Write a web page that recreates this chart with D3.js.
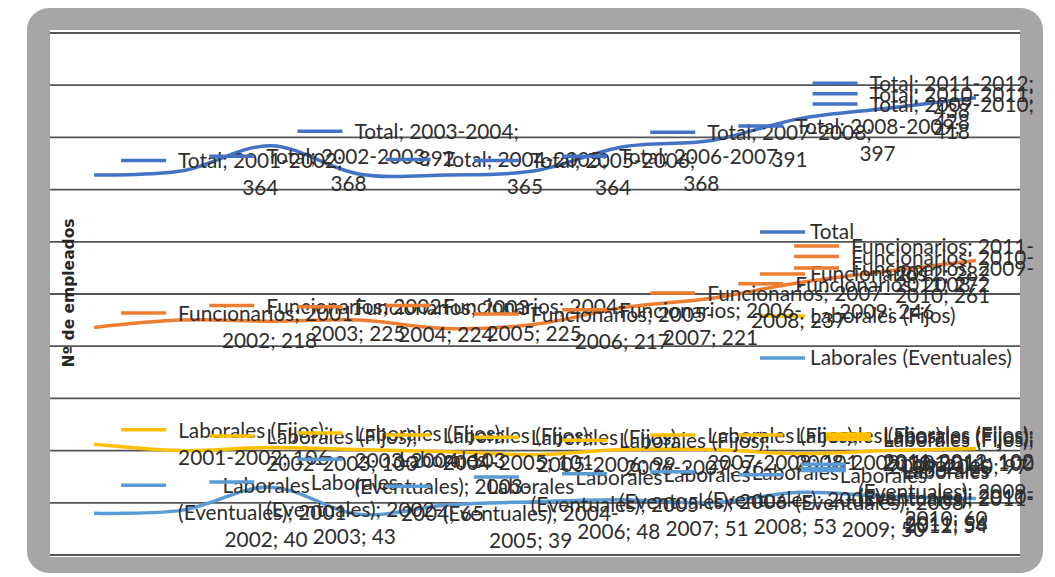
<!DOCTYPE html>
<html>
<head>
<meta charset="utf-8">
<script src="https://cdn.jsdelivr.net/npm/d3@7"></script>
<style>
  body { margin: 0; background: #fff; }
  svg { display: block; }
  text { font-family: Lato, "Noto Sans", sans-serif; }
</style>
</head>
<body>
<svg id="chart" width="1055" height="577"></svg>
<script>
// chart values
const categories = ["2001-2002", "2002-2003", "2003-2004", "2004-2005", "2005-2006", "2006-2007",
                    "2007-2008", "2008-2009", "2009-2010", "2010-2011", "2011-2012"];
const total        = [364, 368, 392, 365, 364, 368, 391, 397, 418, 428, 438];
const funcionarios = [218, 225, 224, 225, 217, 221, 237, 246, 261, 272, 282];
const fijos        = [106, 100, 103, 101, 99, 96, 101, 101, 97, 100, 102];
const eventuales   = [40, 43, 65, 39, 48, 51, 53, 50, 60, 56, 54];
const seriesNames  = ["Total", "Funcionarios", "Laborales (Fijos)", "Laborales (Eventuales)"];
const yTitle = "Nº de empleados";

const colors = ["#4472c4", "#ed7d31", "#ffc000", "#5b9bd5"];
const series = [total, funcionarios, fijos, eventuales].map((values, i) => ({
    name: seriesNames[i], color: colors[i], values
}));

const svg = d3.select("#chart");

// grey frame and white chart area
svg.append("rect").attr("x", 27).attr("y", 8).attr("width", 1016).attr("height", 565)
    .attr("rx", 22).attr("fill", "#a7a5a6");
svg.append("rect").attr("x", 50).attr("y", 30).attr("width", 970).attr("height", 527)
    .attr("fill", "#fff");

const x = d3.scalePoint().domain(categories).range([50, 1020]).padding(0.5);
const y = d3.scaleLinear().domain([0, 500]).range([555, 33]);

// gridlines
svg.append("g").selectAll("line")
    .data(y.ticks(10))
    .join("line")
    .attr("x1", 50).attr("x2", 1020)
    .attr("y1", d => y(d)).attr("y2", d => y(d))
    .attr("stroke", "#555").attr("stroke-width", 1.8);

// axis title
svg.append("text")
    .attr("transform", "translate(69,293) rotate(-90)")
    .attr("text-anchor", "middle")
    .attr("dominant-baseline", "central")
    .style("font-family", "'DejaVu Sans', sans-serif")
    .style("font-weight", "bold")
    .style("font-size", "15.5px")
    .attr("fill", "#262626")
    .text(yTitle);

// smoothed lines
const line = d3.line()
    .x((d, i) => x(categories[i]))
    .y(d => y(d))
    .curve(d3.curveCardinal.tension(0));

svg.append("g").selectAll("path")
    .data(series)
    .join("path")
    .attr("d", d => line(d.values))
    .attr("fill", "none")
    .attr("stroke", d => d.color)
    .attr("stroke-width", 3.5);

const fontSize = 20.8, lineH = 27, maxW = 204, rightEdge = 1034;

// legend
const legend = svg.append("g");
series.forEach((s, i) => {
    const ly = 232 + i * 42;
    legend.append("line").attr("x1", 760).attr("x2", 805).attr("y1", ly).attr("y2", ly)
        .attr("stroke", s.color).attr("stroke-width", 3.5);
    legend.append("text").attr("x", 810).attr("y", ly + 7)
        .style("font-size", fontSize + "px").attr("fill", "#2e2e2e")
        .text(s.name);
});

// data labels, wrapped like the original
const measure = svg.append("text").style("font-size", fontSize + "px").attr("visibility", "hidden");
function textWidth(str) {
    measure.text(str);
    return measure.node().getComputedTextLength();
}
function wrap(str) {
    const tokens = str.split(/(?<=[ -])/);
    const lines = [];
    let cur = "";
    tokens.forEach(t => {
        if (cur && textWidth((cur + t).trimEnd()) > maxW) {
            lines.push(cur.trimEnd());
            cur = t;
        } else {
            cur += t;
        }
    });
    if (cur) lines.push(cur.trimEnd());
    return lines;
}

const labels = svg.append("g");
series.forEach(s => {
    s.values.forEach((v, i) => {
        const px = x(categories[i]), py = y(v);
        const lines = wrap(`${s.name}; ${categories[i]}; ${v}`);
        const blockW = d3.max(lines, textWidth);
        let tx = px + 84;
        if (tx + blockW > rightEdge) tx = rightEdge - blockW;
        const firstBase = py - (lines.length - 1) * lineH / 2 + 7;
        const g = labels.append("g");
        g.append("line")
            .attr("x1", tx - 57).attr("x2", tx - 12)
            .attr("y1", firstBase - 8).attr("y2", firstBase - 8)
            .attr("stroke", s.color).attr("stroke-width", 3.5);
        g.selectAll("text")
            .data(lines)
            .join("text")
            .attr("x", tx + blockW / 2)
            .attr("y", (d, k) => firstBase + k * lineH)
            .attr("text-anchor", "middle")
            .style("font-size", fontSize + "px")
            .attr("fill", "#2e2e2e")
            .text(d => d);
    });
});
measure.remove();
</script>
</body>
</html>
